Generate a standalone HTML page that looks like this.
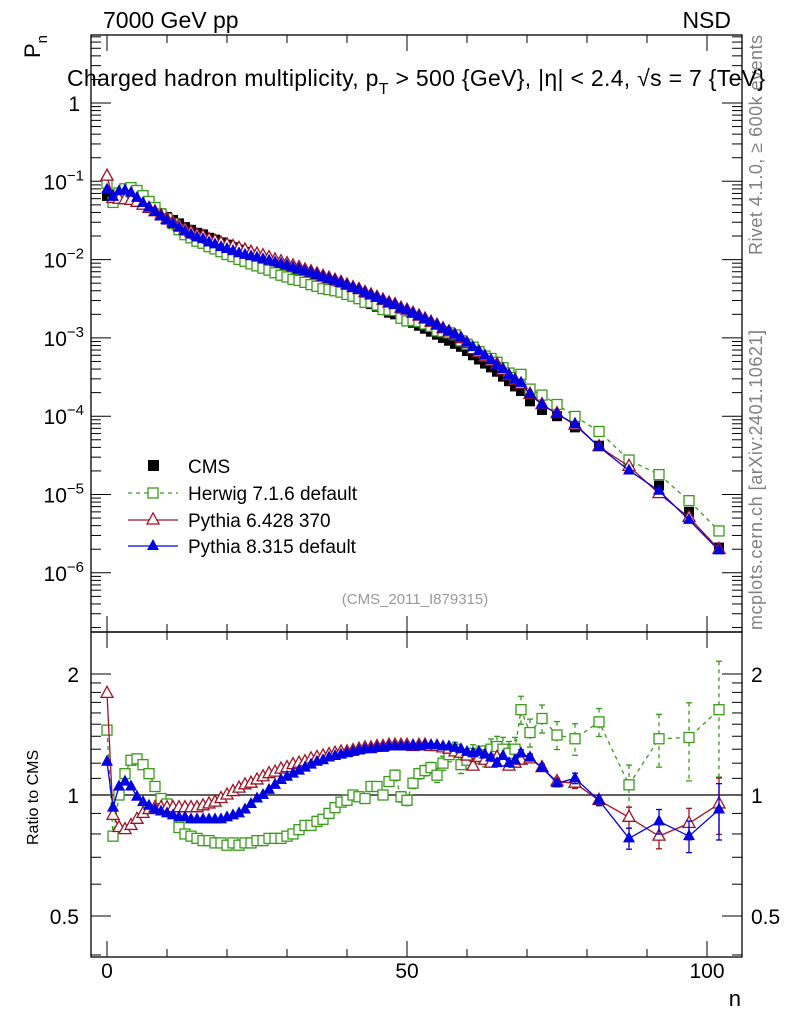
<!DOCTYPE html>
<html><head><meta charset="utf-8"><style>
body{margin:0;background:#fff;}
svg{display:block;font-family:"Liberation Sans",sans-serif;}
</style></head><body>
<svg id="chart" width="786" height="1024" viewBox="0 0 786 1024">
<text x="103" y="28" font-size="23">7000 GeV pp</text>
<text x="731" y="28" font-size="23" text-anchor="end">NSD</text>
<text x="0" y="0" font-size="22" transform="translate(40,58) rotate(-90)">P<tspan font-size="15" dy="7">n</tspan></text>
<text x="0" y="0" font-size="16" transform="translate(38,845) rotate(-90)">Ratio to CMS</text>
<text x="0" y="0" font-size="18" fill="#808080" textLength="220" transform="translate(762,255) rotate(-90)">Rivet 4.1.0, ≥ 600k events</text>
<text x="0" y="0" font-size="18" fill="#808080" textLength="300" transform="translate(762,630) rotate(-90)">mcplots.cern.ch [arXiv:2401.10621]</text>
<text x="741" y="1006" font-size="22" text-anchor="end">n</text>
<g id="plots"></g>
<text x="67" y="86" font-size="23" textLength="698">Charged hadron multiplicity, p<tspan font-size="16" dy="8">T</tspan><tspan dy="-8"> &gt; 500 {GeV}, |η| &lt; 2.4, √s = 7 {TeV}</tspan></text>
<text x="415" y="604" font-size="15" fill="#999" text-anchor="middle">(CMS_2011_I879315)</text>
<g id="legend">
<rect x="148" y="460" width="11" height="11" fill="#000"/>
<text x="188" y="473" font-size="19">CMS</text>
<line x1="128" y1="493" x2="178" y2="493" stroke="#3a9a1a" stroke-width="1.3" stroke-dasharray="4,4"/>
<rect x="148" y="488" width="10" height="10" fill="#fff" stroke="#3a9a1a" stroke-width="1.3"/>
<text x="188" y="500" font-size="19">Herwig 7.1.6 default</text>
<line x1="128" y1="520" x2="178" y2="520" stroke="#a01025" stroke-width="1.3"/>
<polygon points="153,513 147,524 159,524" fill="#fff" stroke="#a01025" stroke-width="1.3"/>
<text x="188" y="527" font-size="19">Pythia 6.428 370</text>
<line x1="128" y1="546" x2="178" y2="546" stroke="#0000e0" stroke-width="1.3"/>
<polygon points="153,539 147,550 159,550" fill="#0000e0"/>
<text x="188" y="553" font-size="19">Pythia 8.315 default</text>
</g>
</svg>
<script>
const nBins = [0,1,2,3,4,5,6,7,8,9,10,11,12,13,14,15,16,17,18,19,20,21,22,23,24,25,26,27,28,29,30,31,32,33,34,35,36,37,38,39,40,41,42,43,44,45,46,47,48,49,50,51,52,53,54,55,56,57,58,59,60,61,62,63,64,65,66,67,68,69,70.5,72.5,75,78,82,87,92,97,102];
const cmsPn = [0.065,0.068,0.071,0.071,0.068,0.062,0.055,0.049,0.044,0.039,0.035,0.032,0.029,0.026,0.024,0.022,0.021,0.019,0.018,0.0166,0.0155,0.0144,0.0134,0.0125,0.0116,0.0108,0.0101,0.0094,0.0087,0.0081,0.0076,0.0070,0.0066,0.0061,0.0057,0.0053,0.0049,0.0046,0.0043,0.0040,0.0037,0.0034,0.0032,0.0029,0.0027,0.0025,0.0023,0.0021,0.0020,0.0018,0.0017,0.00156,0.00143,0.00131,0.00120,0.00110,0.00100,0.00092,0.00084,0.00077,0.00068,0.00060,0.00053,0.00047,0.00042,0.00037,0.00032,0.00028,0.00024,0.00021,1.55e-4,1.2e-4,1.0e-4,7.2e-5,4.2e-5,2.6e-5,1.3e-5,6e-6,2.1e-6];
const herwigRatio = [1.45,0.79,1.0,1.13,1.22,1.23,1.19,1.13,1.05,0.98,0.95,0.9,0.83,0.8,0.79,0.78,0.77,0.77,0.76,0.76,0.75,0.76,0.75,0.76,0.76,0.77,0.77,0.78,0.78,0.78,0.79,0.8,0.82,0.84,0.84,0.86,0.87,0.9,0.93,0.96,0.97,1.0,0.99,0.98,1.05,1.05,1.0,1.08,1.12,0.99,0.97,1.07,1.13,1.15,1.17,1.12,1.2,1.26,1.3,1.19,1.22,1.27,1.26,1.25,1.3,1.32,1.3,1.27,1.3,1.63,1.43,1.55,1.41,1.38,1.52,1.06,1.38,1.39,1.63];
const pythia6Ratio = [1.79,0.89,0.83,0.82,0.84,0.87,0.9,0.92,0.93,0.93,0.93,0.93,0.93,0.93,0.93,0.93,0.94,0.95,0.96,0.98,1.0,1.02,1.04,1.06,1.07,1.09,1.11,1.13,1.14,1.16,1.17,1.19,1.2,1.21,1.23,1.24,1.25,1.26,1.27,1.28,1.28,1.29,1.3,1.31,1.31,1.32,1.32,1.33,1.33,1.33,1.33,1.32,1.33,1.33,1.32,1.32,1.31,1.3,1.28,1.27,1.25,1.18,1.24,1.22,1.2,1.24,1.21,1.18,1.2,1.22,1.23,1.17,1.08,1.07,0.97,0.88,0.79,0.85,0.95];
const pythia8Ratio = [1.21,0.93,1.05,1.08,1.05,0.99,0.96,0.94,0.92,0.91,0.9,0.89,0.88,0.88,0.87,0.87,0.87,0.87,0.87,0.87,0.88,0.89,0.9,0.92,0.95,0.98,1.0,1.03,1.06,1.09,1.11,1.13,1.15,1.17,1.19,1.21,1.22,1.24,1.25,1.26,1.27,1.28,1.29,1.3,1.3,1.31,1.31,1.32,1.32,1.32,1.32,1.33,1.32,1.33,1.33,1.33,1.32,1.32,1.31,1.3,1.28,1.27,1.28,1.26,1.24,1.2,1.25,1.2,1.22,1.27,1.24,1.17,1.07,1.1,0.97,0.78,0.86,0.79,0.92];
const herwigErr = [0,0,0,0,0,0,0,0,0,0,0,0,0,0,0,0,0,0,0,0,0,0,0,0,0,0,0,0,0,0,0,0,0,0,0,0,0,0,0,0,0,0,0,0,0.02,0.02,0.02,0.02,0.03,0.03,0.03,0.03,0.03,0.03,0.03,0.04,0.04,0.04,0.04,0.05,0.05,0.05,0.05,0.06,0.06,0.06,0.07,0.07,0.07,0.08,0.08,0.08,0.08,0.09,0.08,0.12,0.15,0.22,0.32];
const pythiaErr = [0,0,0,0,0,0,0,0,0,0,0,0,0,0,0,0,0,0,0,0,0,0,0,0,0,0,0,0,0,0,0,0,0,0,0,0,0,0,0,0,0,0,0,0,0,0,0,0,0,0,0,0,0,0,0,0,0,0,0,0,0,0,0,0,0,0,0,0,0,0.02,0.02,0.02,0.02,0.03,0.03,0.06,0.07,0.09,0.16];
const xTicks = [0,50,100];
const pTicks = [0,-1,-2,-3,-4,-5,-6];
const rTicks = [2,1,0.5];

const NS='http://www.w3.org/2000/svg';
const L=91,R=742,T=35,M=632,B=957;
const sx = n => 107 + n*6.0;
const sy = p => 103 - 78.3*Math.log10(p);
const sr = r => 795 - 402*Math.log10(r);
const root=document.getElementById('plots');
function mk(tag,attrs,parent){const e=document.createElementNS(NS,tag);for(const k in attrs)e.setAttribute(k,attrs[k]);(parent||root).appendChild(e);return e;}

const defs=mk('defs',{});
const c1=mk('clipPath',{id:'cu'},defs);mk('rect',{x:L,y:T,width:R-L,height:M-T},c1);
const c2=mk('clipPath',{id:'cr'},defs);mk('rect',{x:L,y:M,width:R-L,height:B-M},c2);

let f=mk('rect',{x:L,y:T,width:R-L,height:M-T,fill:'none',stroke:'#000','stroke-width':1.3});


f=mk('rect',{x:L,y:M,width:R-L,height:B-M,fill:'none',stroke:'#000','stroke-width':1.3});



for(let v=0;v<=100;v+=10){
  const x=sx(v), len=(v%50===0)?16:8;
  for(const [y0,dir] of [[T,1],[M,-1],[M,1],[B,-1]]){
    const t=mk('line',{x1:x,x2:x,y1:y0,y2:y0+dir*len,stroke:'#000','stroke-width':1});
    
    
  }
}
xTicks.forEach(v=>{
  const t=mk('text',{x:sx(v),y:978,'font-size':21,'text-anchor':'middle'});t.textContent=v;
  
  
});
for(let d=-7;d<=0;d++){
  for(let m=1;m<=9;m++){
    const y=sy(m*Math.pow(10,d)); if(y<T||y>M) continue;
    const len=m===1?20:10;
    const a=mk('line',{x1:L,x2:L+len,y1:y,y2:y,stroke:'#000','stroke-width':1});
    
    
    const b=mk('line',{x1:R,x2:R-len,y1:y,y2:y,stroke:'#000','stroke-width':1});
    
    
  }
}
pTicks.forEach(d=>{
  const y=sy(Math.pow(10,d));
  const t=mk('text',{x:d===0?80:70,y:y+8,'font-size':21,'text-anchor':'end'});
  if(d===0){t.textContent='1';}
  else{t.textContent='10';const s=mk('tspan',{dy:-9,'font-size':15},t);s.textContent='\u2212'+(-d);}
  if(d!==0) t.setAttribute('x',84);
  
  
});
const rMinor=[0.4,0.5,0.6,0.7,0.8,0.9,1,1.1,1.2,1.3,1.4,1.5,1.6,1.7,1.8,1.9,2];
rMinor.forEach(v=>{
  const y=sr(v);const len=(v===0.5||v===1||v===2)?20:10;
  if(y<M||y>B) return;
  const a=mk('line',{x1:L,x2:L+len,y1:y,y2:y,stroke:'#000','stroke-width':1});
  
  
  const b=mk('line',{x1:R,x2:R-len,y1:y,y2:y,stroke:'#000','stroke-width':1});
  
  
});
rTicks.forEach(v=>{
  const y=sr(v);
  const t=mk('text',{x:79,y:y+8,'font-size':21,'text-anchor':'end'});t.textContent=v;
  
  
  const t2=mk('text',{x:751,y:y+8,'font-size':21});t2.textContent=v;
  
  
});
const one=mk('line',{x1:L,x2:R,y1:sr(1),y2:sr(1),stroke:'#000','stroke-width':1.2});



function marker(g,kind,color,x,y){
  let e;
  if(kind==='sq'){e=mk('rect',{x:x-5,y:y-5,width:10,height:10,fill:'#fff',stroke:color,'stroke-width':1.3},g);}
  else if(kind==='fsq'){e=mk('rect',{x:x-5,y:y-5,width:10,height:10,fill:color},g);}
  else if(kind==='tri'){e=mk('polygon',{points:`${x},${y-7} ${x-6},${y+4} ${x+6},${y+4}`,fill:'#fff',stroke:color,'stroke-width':1.3},g);}
  else {e=mk('polygon',{points:`${x},${y-7} ${x-6},${y+4} ${x+6},${y+4}`,fill:color},g);}
  
  
}
function series(name,ratio,err,color,kind,dash){
  const gu=mk('g',{'clip-path':'url(#cu)'});
  
  
  const pts=nBins.map((n,i)=>[sx(n),sy(cmsPn[i]*ratio[i])]);
  const pl=mk('polyline',{points:pts.map(p=>p.join(',')).join(' '),fill:'none',stroke:color,'stroke-width':1.3,'stroke-dasharray':dash||'none'},gu);
  
  
  pts.forEach(p=>marker(gu,kind,color,p[0],p[1]));
  const gr=mk('g',{'clip-path':'url(#cr)'});
  
  
  const rp=nBins.map((n,i)=>[sx(n),sr(ratio[i])]);
  nBins.forEach((n,i)=>{ if(err[i]>0){
    const e=mk('line',{x1:sx(n),x2:sx(n),y1:sr(ratio[i]*(1+err[i])),y2:sr(ratio[i]*(1-err[i])),stroke:color,'stroke-width':1.3,'stroke-dasharray':dash||'none'},gr);
    
    
    [ratio[i]*(1+err[i]),ratio[i]*(1-err[i])].forEach(v=>{
      const c=mk('line',{x1:sx(n)-3,x2:sx(n)+3,y1:sr(v),y2:sr(v),stroke:color,'stroke-width':1.3},gr);
      
      
    });
  }});
  const rl=mk('polyline',{points:rp.map(p=>p.join(',')).join(' '),fill:'none',stroke:color,'stroke-width':1.3,'stroke-dasharray':dash||'none'},gr);
  
  
  rp.forEach(p=>marker(gr,kind,color,p[0],p[1]));
}
const gc=mk('g',{'clip-path':'url(#cu)'});


nBins.forEach((n,i)=>marker(gc,'fsq','#000',sx(n),sy(cmsPn[i])));
series('herwig',herwigRatio,herwigErr,'#3a9a1a','sq','4,4');
series('pythia6',pythia6Ratio,pythiaErr,'#a01025','tri');
series('pythia8',pythia8Ratio,pythiaErr,'#0000e0','ftri');
</script>
</body></html>
